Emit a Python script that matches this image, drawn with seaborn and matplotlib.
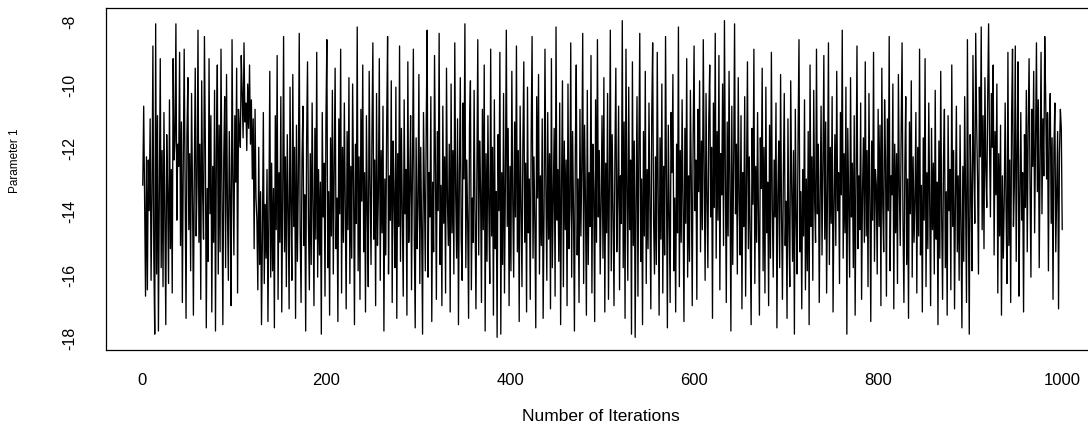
import matplotlib
matplotlib.use("Agg")
import matplotlib.pyplot as plt
import seaborn as sns
import pandas as pd

# trace values of parameter 1 (approximate)
param1 = [
    -13.2, -10.7, -13.8, -16.7, -12.3, -16.5, -12.4, -14.0, -11.1, -16.2, -13.6, -8.8, -15.5, -17.9, -8.1, -16.0, -11.0, -17.8, -13.4, -9.2,
    -15.8, -12.1, -16.4, -10.9, -14.2, -17.6, -11.6, -13.4, -16.3, -10.5, -15.2, -12.7, -16.6, -9.2, -12.4, -11.8, -8.1, -14.3, -11.9, -12.6,
    -9.0, -15.1, -11.2, -16.9, -12.5, -8.9, -13.0, -17.4, -11.6, -9.8, -14.6, -12.2, -15.9, -10.3, -13.3, -17.3, -12.7, -9.5, -14.8, -13.1,
    -8.3, -15.0, -11.9, -16.8, -9.9, -13.4, -14.9, -8.5, -12.0, -17.7, -13.3, -15.6, -9.2, -14.1, -11.0, -17.2, -12.6, -15.0, -10.2, -17.8,
    -12.1, -9.4, -16.0, -11.3, -15.3, -8.9, -13.2, -17.6, -12.3, -10.4, -15.8, -9.7, -14.0, -16.2, -11.5, -13.6, -17.0, -8.6, -12.9, -15.4,
    -11.0, -13.1, -9.5, -16.6, -10.8, -11.5, -12.0, -9.1, -10.3, -11.7, -8.7, -11.2, -10.6, -12.1, -10.0, -11.4, -9.4, -11.9, -10.5, -13.0,
    -11.1, -15.2, -10.8, -13.6, -14.3, -16.5, -12.0, -15.7, -13.4, -17.6, -14.8, -10.9, -16.3, -13.8, -15.5, -12.7, -17.5, -14.2, -9.6, -16.1,
    -12.5, -15.9, -13.3, -17.7, -11.0, -14.6, -9.1, -16.8, -12.8, -15.0, -10.4, -17.2, -13.7, -8.5, -15.3, -12.3, -16.4, -11.6, -14.0, -17.1,
    -10.1, -13.9, -16.2, -9.7, -14.5, -12.0, -17.4, -11.3, -15.6, -13.0, -8.4, -14.7, -16.9, -12.4, -10.7, -15.1, -13.5, -17.8, -11.8, -9.3,
    -14.4, -16.5, -12.2, -15.7, -10.6, -13.8, -17.0, -11.4, -14.9, -9.0, -16.1, -12.7, -15.4, -13.1, -17.9, -10.9, -14.2, -12.5, -16.7, -11.2,
    -8.6, -15.8, -13.4, -17.3, -11.7, -14.8, -10.2, -16.0, -12.9, -9.5, -15.2, -13.6, -17.5, -11.1, -14.1, -8.9, -16.6, -12.0, -15.0, -10.6,
    -13.9, -17.1, -11.5, -14.6, -9.8, -16.3, -12.6, -15.5, -10.0, -13.2, -17.6, -11.9, -14.4, -8.2, -15.9, -12.3, -16.8, -10.8, -13.7, -9.4,
    -15.3, -12.8, -17.2, -11.0, -14.0, -16.4, -9.6, -13.1, -15.7, -11.6, -8.7, -14.9, -12.4, -17.0, -10.3, -15.1, -13.5, -9.2, -16.2, -12.1,
    -14.7, -10.7, -17.8, -13.0, -15.4, -11.3, -8.5, -16.0, -12.9, -14.3, -9.9, -16.9, -11.8, -13.6, -15.8, -10.1, -17.4, -12.2, -14.5, -8.8,
    -15.6, -11.4, -13.9, -16.7, -10.5, -14.1, -12.7, -17.3, -9.3, -15.0, -13.3, -11.0, -16.5, -12.5, -8.9, -14.8, -17.7, -11.7, -15.2, -13.8,
    -9.7, -16.3, -12.0, -14.6, -17.9, -10.9, -13.4, -15.9, -11.2, -8.3, -16.1, -12.8, -14.2, -10.4, -17.5, -13.1, -15.3, -9.1, -12.6, -16.8,
    -11.5, -14.0, -8.4, -15.7, -13.2, -17.0, -10.7, -14.4, -12.3, -16.6, -9.5, -13.7, -15.1, -11.9, -17.2, -10.0, -14.7, -12.1, -16.0, -8.7,
    -13.5, -15.5, -11.1, -17.6, -12.9, -9.8, -14.9, -16.2, -10.6, -13.0, -8.1, -15.8, -12.4, -14.3, -17.4, -11.3, -9.9, -16.5, -13.6, -15.0,
    -10.2, -14.1, -17.1, -12.7, -8.6, -15.4, -11.8, -13.3, -16.9, -10.8, -14.6, -9.4, -17.8, -12.2, -15.6, -11.0, -13.9, -16.3, -8.9, -14.8,
    -12.0, -17.3, -10.5, -15.2, -13.4, -18.0, -11.6, -14.0, -9.0, -17.9, -12.8, -15.7, -10.3, -16.6, -13.1, -8.3, -14.5, -11.4, -17.0, -12.6,
    -15.9, -9.6, -13.7, -16.1, -11.2, -14.2, -8.8, -15.3, -12.1, -17.5, -10.7, -13.8, -16.4, -11.9, -9.3, -15.0, -12.5, -17.2, -10.1, -14.7,
    -13.0, -16.8, -11.7, -8.5, -15.5, -12.3, -14.4, -17.7, -10.4, -13.6, -9.7, -16.0, -12.9, -15.1, -11.1, -17.4, -14.1, -8.9, -13.3, -16.2,
    -10.9, -14.9, -12.2, -17.1, -9.2, -15.8, -13.5, -11.4, -16.7, -8.2, -14.3, -12.7, -15.6, -10.6, -17.6, -13.2, -9.9, -16.4, -11.8, -14.6,
    -12.4, -17.0, -10.0, -15.2, -13.9, -8.7, -16.1, -11.5, -14.0, -17.8, -12.0, -9.4, -15.4, -13.0, -16.9, -10.8, -14.8, -12.6, -8.4, -16.3,
    -11.3, -13.7, -17.3, -10.2, -15.7, -12.8, -14.5, -9.1, -16.6, -11.9, -13.4, -17.5, -10.5, -15.0, -8.6, -14.2, -12.1, -16.0, -13.8, -11.0,
    -15.5, -9.8, -17.2, -12.5, -14.7, -10.3, -16.8, -13.1, -8.3, -15.9, -11.6, -14.0, -17.0, -12.2, -9.5, -15.3, -13.6, -10.7, -16.5, -12.9,
    -14.4, -8.0, -15.8, -11.2, -17.4, -8.9, -13.3, -16.2, -10.1, -14.6, -12.4, -17.9, -9.3, -15.1, -11.8, -18.0, -13.7, -10.4, -16.7, -12.0,
    -8.4, -15.6, -13.0, -17.6, -11.5, -14.8, -9.6, -16.3, -12.7, -15.2, -10.6, -13.9, -17.1, -11.0, -8.7, -14.3, -16.0, -12.3, -15.7, -9.0,
    -13.5, -17.3, -11.7, -14.9, -10.0, -16.6, -12.6, -15.4, -8.5, -13.2, -17.7, -11.3, -14.1, -16.9, -10.9, -12.8, -9.7, -15.9, -13.6, -17.2,
    -11.9, -14.7, -8.2, -16.4, -12.1, -15.0, -10.5, -13.8, -17.5, -11.4, -14.4, -9.2, -16.1, -12.9, -15.6, -10.2, -13.1, -17.0, -11.6, -8.8,
    -14.0, -12.4, -16.8, -10.8, -13.4, -9.9, -15.3, -11.8, -14.6, -8.6, -12.7, -16.2, -10.3, -13.7, -15.8, -11.1, -9.4, -14.2, -12.0, -17.4,
    -10.6, -13.9, -8.4, -15.5, -11.5, -14.3, -9.1, -16.5, -12.2, -13.5, -10.0, -15.1, -8.0, -12.9, -16.9, -11.2, -14.8, -9.6, -13.2, -17.8,
    -10.7, -15.7, -12.5, -8.1, -14.1, -11.9, -16.0, -9.8, -13.6, -15.4, -11.0, -17.1, -12.8, -14.5, -10.4, -16.7, -13.0, -9.3, -15.2, -12.3,
    -14.9, -17.6, -11.4, -13.8, -8.9, -16.3, -12.6, -15.0, -10.9, -14.4, -17.3, -11.7, -13.3, -9.5, -15.9, -12.0, -16.6, -10.1, -14.7, -13.1,
    -17.0, -11.3, -15.5, -9.0, -13.9, -16.1, -12.4, -14.2, -10.6, -17.7, -13.5, -11.8, -15.8, -9.7, -14.0, -16.8, -12.9, -10.3, -15.1, -13.7,
    -17.4, -11.1, -14.6, -16.4, -9.9, -13.2, -15.6, -12.1, -17.9, -10.8, -14.3, -16.0, -11.6, -8.6, -15.3, -13.4, -17.1, -12.7, -14.8, -10.5,
    -16.5, -13.0, -15.9, -11.5, -17.6, -9.4, -14.5, -12.3, -16.2, -10.2, -13.7, -15.0, -8.9, -14.1, -11.9, -16.9, -13.6, -10.7, -15.4, -12.6,
    -9.1, -14.9, -11.2, -16.6, -13.3, -8.7, -15.7, -12.0, -14.4, -10.4, -17.2, -13.8, -11.6, -15.1, -9.6, -14.0, -12.8, -16.3, -10.9, -13.5,
    -8.3, -15.5, -12.2, -14.7, -10.1, -17.9, -11.4, -13.9, -16.1, -9.8, -14.2, -12.5, -15.8, -11.0, -17.3, -13.1, -8.8, -15.2, -12.9, -14.6,
    -10.6, -16.8, -13.4, -11.7, -15.0, -9.3, -14.8, -12.1, -16.4, -10.3, -13.6, -17.5, -11.8, -14.3, -9.0, -15.6, -12.7, -13.2, -16.0, -10.8,
    -14.5, -11.3, -17.0, -9.5, -13.8, -15.3, -10.5, -12.4, -16.7, -11.1, -14.0, -8.5, -15.9, -12.9, -13.5, -10.0, -17.1, -11.9, -14.7, -12.2,
    -16.3, -9.7, -13.3, -15.1, -11.5, -8.7, -14.4, -16.9, -12.6, -10.4, -15.7, -13.0, -17.4, -11.2, -14.1, -9.9, -16.1, -12.3, -15.0, -13.7,
    -10.9, -16.6, -12.0, -14.8, -8.9, -15.4, -13.2, -17.2, -11.7, -14.3, -9.2, -16.4, -12.8, -15.2, -10.6, -13.9, -17.0, -11.4, -14.6, -12.5,
    -16.0, -10.2, -14.9, -13.1, -17.6, -11.8, -15.5, -9.6, -14.2, -16.8, -12.4, -10.8, -15.8, -13.4, -17.3, -11.0, -14.0, -12.7, -16.5, -9.4,
    -14.5, -12.1, -17.1, -13.6, -10.7, -15.3, -12.9, -16.2, -11.3, -14.7, -17.7, -12.6, -15.6, -10.4, -13.8, -16.9, -8.6, -14.1, -17.9, -11.6,
    -13.3, -15.9, -9.1, -12.5, -14.4, -8.4, -11.2, -13.0, -16.0, -10.1, -12.3, -8.2, -14.6, -11.0, -15.2, -9.8, -12.7, -13.9, -10.5, -8.1,
    -11.9, -14.2, -10.3, -12.0, -9.4, -15.4, -11.5, -13.5, -10.0, -16.6, -12.2, -14.8, -11.3, -17.3, -12.9, -15.5, -13.7, -10.6, -14.0, -16.3,
    -9.0, -15.1, -12.4, -16.9, -11.0, -8.9, -14.5, -13.2, -8.8, -15.6, -12.1, -9.3, -16.7, -13.6, -10.9, -14.3, -12.8, -17.2, -11.6, -13.9,
    -10.2, -15.3, -11.4, -9.2, -13.1, -16.1, -10.8, -12.6, -9.6, -14.7, -11.9, -8.7, -13.4, -10.5, -15.8, -12.3, -9.0, -14.1, -11.1, -12.9,
    -8.5, -10.4, -13.0, -10.9, -15.9, -11.2, -10.3, -14.4, -11.7, -16.8, -12.0, -10.6, -15.3, -13.3, -11.5, -17.1, -12.2, -10.8, -11.4, -14.6,
]
iterations = list(range(1, len(param1) + 1))

x_ticks = [0, 200, 400, 600, 800, 1000]
y_ticks = [-18, -16, -14, -12, -10, -8]

df = pd.DataFrame({"iteration": iterations, "value": param1})

sns.set_style("white")
plt.rcParams["font.family"] = ["Liberation Sans", "DejaVu Sans"]
plt.rcParams["axes.unicode_minus"] = False
plt.rcParams["text.color"] = "black"

fig = plt.figure(figsize=(10.88, 4.27), dpi=100)
ax = fig.add_axes([106 / 1088, 1 - 351 / 427, 993 / 1088, 342 / 427])

sns.lineplot(data=df, x="iteration", y="value", color="black", linewidth=0.95, ax=ax)

ax.set_xlim(-38.96, 1039.96)
ax.set_ylim(-18.40, -7.60)

ax.set_xticks(x_ticks)
ax.set_xticklabels([str(t) for t in x_ticks], fontsize=12, color="black")
ax.set_yticks(y_ticks)
ax.set_yticklabels([str(t) for t in y_ticks], fontsize=11.5, rotation=90,
                   va="center", color="black")

ax.tick_params(axis="x", direction="out", length=6.5, width=0.8, pad=9, colors="black")
ax.tick_params(axis="y", direction="out", length=8.6, width=0.8, pad=12, colors="black")
for s in ax.spines.values():
    s.set_visible(True)
    s.set_color("black")
    s.set_linewidth(0.9)

ax.set_xlabel("")
ax.set_ylabel("")
fig.text(601 / 1088, 1 - 417 / 427, "Number of Iterations", fontsize=12.5,
         ha="center", va="center", color="black")
fig.text(15.5 / 1088, 1 - 161 / 427, "Parameter 1", fontsize=8.5,
         rotation=90, ha="center", va="center", color="black")

fig.savefig("out.png", dpi=100)
plt.close(fig)
